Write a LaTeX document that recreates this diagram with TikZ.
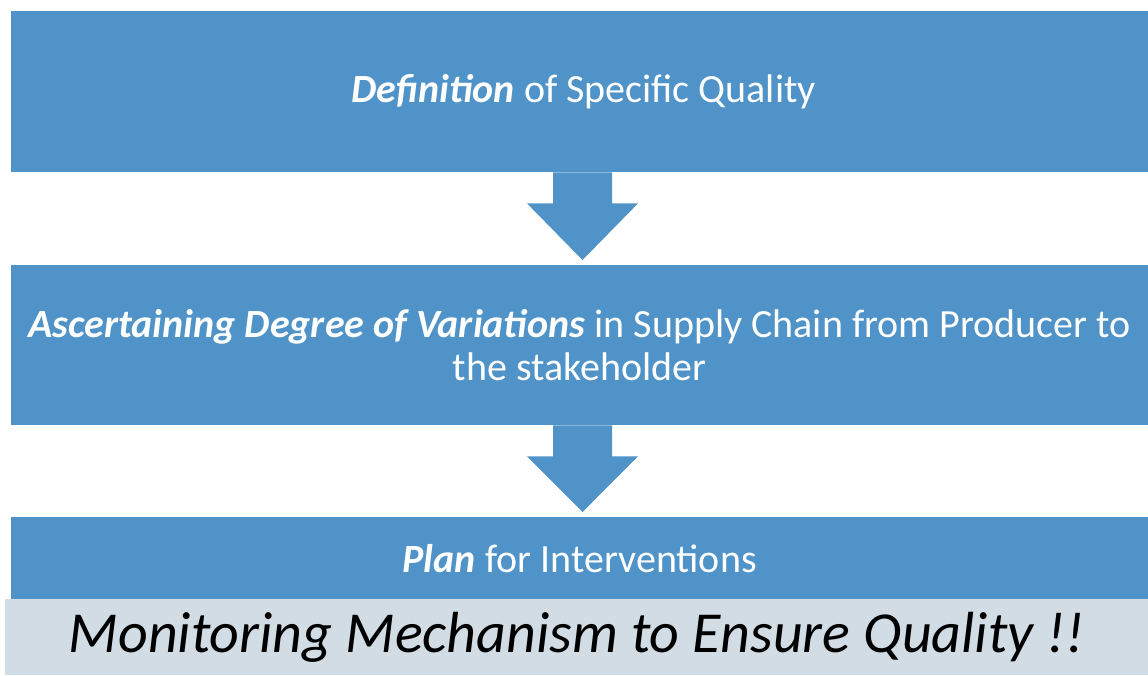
\documentclass[tikz,border=0pt]{standalone}
\usepackage{fontspec}
\setmainfont{Carlito}
\usetikzlibrary{calc}
\definecolor{boxblue}{HTML}{4F93C8}
\definecolor{bandgray}{HTML}{D2DCE4}
\begin{document}
\begin{tikzpicture}[x=1pt,y=-1pt,
  bluebox/.style={fill=boxblue, draw=none, inner sep=0pt, anchor=north west, text=white, align=center,
    font=\fontsize{40}{43}\selectfont},
  bandbox/.style={fill=bandgray, draw=none, inner sep=0pt, anchor=north west, text=black,
    font=\fontsize{58}{60}\selectfont\itshape},
  blockarrow/.style={fill=boxblue, draw=none}]
\useasboundingbox (0,0) rectangle (1148,675);
\node[bluebox, minimum width=1137pt, minimum height=161pt] (b1) at (11,11)
  {\hspace*{8pt}\textbf{\textit{Definition}} of Specific Quality};
\node[bluebox, minimum width=1137pt, minimum height=160pt] (b2) at (11,265)
  {\textbf{\textit{Ascertaining Degree of Variations}} in Supply Chain from Producer to\\ the stakeholder};
\node[bluebox, minimum width=1137pt, minimum height=82pt] (b3) at (11,517)
  {\textbf{\textit{Plan}} for Interventions};
\node[bandbox, minimum width=1143pt, minimum height=76pt] (b4) at (5,599)
  {Monitoring Mechanism to Ensure Quality !!};
\coordinate (ax) at (582.5,0);
% arrow 1
\fill[blockarrow] ($(ax |- b1.south)+(-29.5,0)$) -- ($(ax |- b1.south)+(29.5,0)$)
  -- ($(ax |- b1.south)+(29.5,31)$) -- ($(ax |- b1.south)+(55.5,31)$)
  -- ($(ax |- b2.north)+(0,-5)$) -- ($(ax |- b1.south)+(-55.5,31)$)
  -- ($(ax |- b1.south)+(-29.5,31)$) -- cycle;
% arrow 2
\fill[blockarrow] ($(ax |- b2.south)+(-29.5,0)$) -- ($(ax |- b2.south)+(29.5,0)$)
  -- ($(ax |- b2.south)+(29.5,31)$) -- ($(ax |- b2.south)+(55.5,31)$)
  -- ($(ax |- b3.north)+(0,-5)$) -- ($(ax |- b2.south)+(-55.5,31)$)
  -- ($(ax |- b2.south)+(-29.5,31)$) -- cycle;
\end{tikzpicture}
\end{document}
